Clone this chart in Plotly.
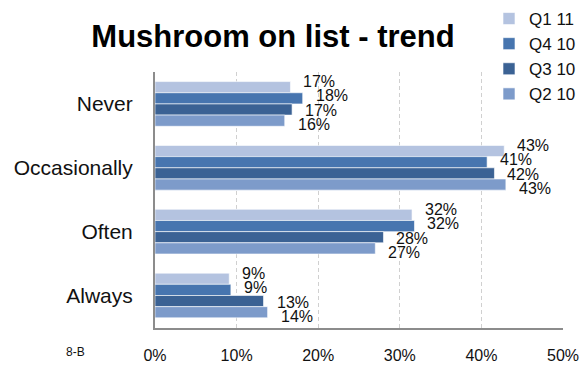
import plotly.graph_objects as go

categories = ["Never", "Occasionally", "Often", "Always"]
series_names = ["Q1 11", "Q4 10", "Q3 10", "Q2 10"]
q1_11 = [16.6, 42.8, 31.5, 9.1]
q4_10 = [18.1, 40.7, 31.8, 9.3]
q3_10 = [16.8, 41.6, 28.0, 13.3]
q2_10 = [15.9, 43.0, 27.0, 13.8]
series_values = [q1_11, q4_10, q3_10, q2_10]
colors = ["#B4C3E0", "#4775AF", "#3B6294", "#7D9BCA"]
x_ticks = [0, 10, 20, 30, 40, 50]
x_tick_labels = ["0%", "10%", "20%", "30%", "40%", "50%"]

FONT = "Liberation Sans"
W, H = 583, 365
ML, MR, MT, MB = 155, 20, 72, 37
PW, PH = W - ML - MR, H - MT - MB

fig = go.Figure()
for name, vals, col in zip(series_names, series_values, colors):
    fig.add_trace(go.Bar(
        name=name,
        y=categories,
        x=vals,
        orientation="h",
        marker=dict(color=col, line=dict(color="rgba(255,255,255,0.6)", width=1)),
    ))

# value labels, fanned out vertically so the four labels of a group stay legible
label_spread = [22, 8, -7, -21]
annotations = []
for k, vals in enumerate(series_values):
    for cat, v in zip(categories, vals):
        annotations.append(dict(
            x=v, y=cat, xref="x", yref="y",
            text=f"{v:.0f}%",
            xanchor="left", yanchor="middle",
            xshift=11, yshift=label_spread[k],
            showarrow=False,
            font=dict(family=FONT, size=16, color="#111111"),
        ))

annotations.append(dict(
    text="8-B",
    x=(75 - ML) / PW, y=1 - (352 - MT) / PH,
    xref="paper", yref="paper",
    xanchor="center", yanchor="middle",
    showarrow=False,
    font=dict(family=FONT, size=12, color="#111111"),
))

fig.update_layout(
    width=W,
    height=H,
    margin=dict(l=ML, r=MR, t=MT, b=MB, autoexpand=False),
    paper_bgcolor="white",
    plot_bgcolor="white",
    barmode="group",
    bargap=0.3,
    bargroupgap=0,
    showlegend=True,
    legend=dict(
        x=(489 - ML) / PW, y=1 + (MT - 1) / PH,
        xanchor="left", yanchor="top",
        font=dict(family=FONT, size=17, color="#111111"),
        itemwidth=30,
        tracegroupgap=0,
        bgcolor="rgba(0,0,0,0)",
    ),
    title=dict(
        text="<b>Mushroom on list - trend</b>",
        x=(273 - ML) / PW, xref="paper", xanchor="center",
        y=1 - 36 / H, yref="container", yanchor="middle",
        font=dict(family=FONT, size=31, color="#000000"),
    ),
    xaxis=dict(
        range=[0, 50],
        tickvals=x_ticks,
        ticktext=x_tick_labels,
        showgrid=True,
        gridcolor="#D0D0D0",
        griddash="4px,3px",
        gridwidth=1,
        zeroline=False,
        showline=True,
        linecolor="#8C8C8C",
        linewidth=2,
        ticks="",
        ticklabelstandoff=12,
        tickfont=dict(family=FONT, size=16, color="#111111"),
        fixedrange=True,
    ),
    yaxis=dict(
        autorange="reversed",
        showgrid=False,
        zeroline=False,
        showline=True,
        linecolor="#8C8C8C",
        linewidth=2,
        ticks="",
        ticklabelstandoff=16,
        tickfont=dict(family=FONT, size=21, color="#111111"),
        fixedrange=True,
    ),
    annotations=annotations,
)

fig.write_html("out.html")
